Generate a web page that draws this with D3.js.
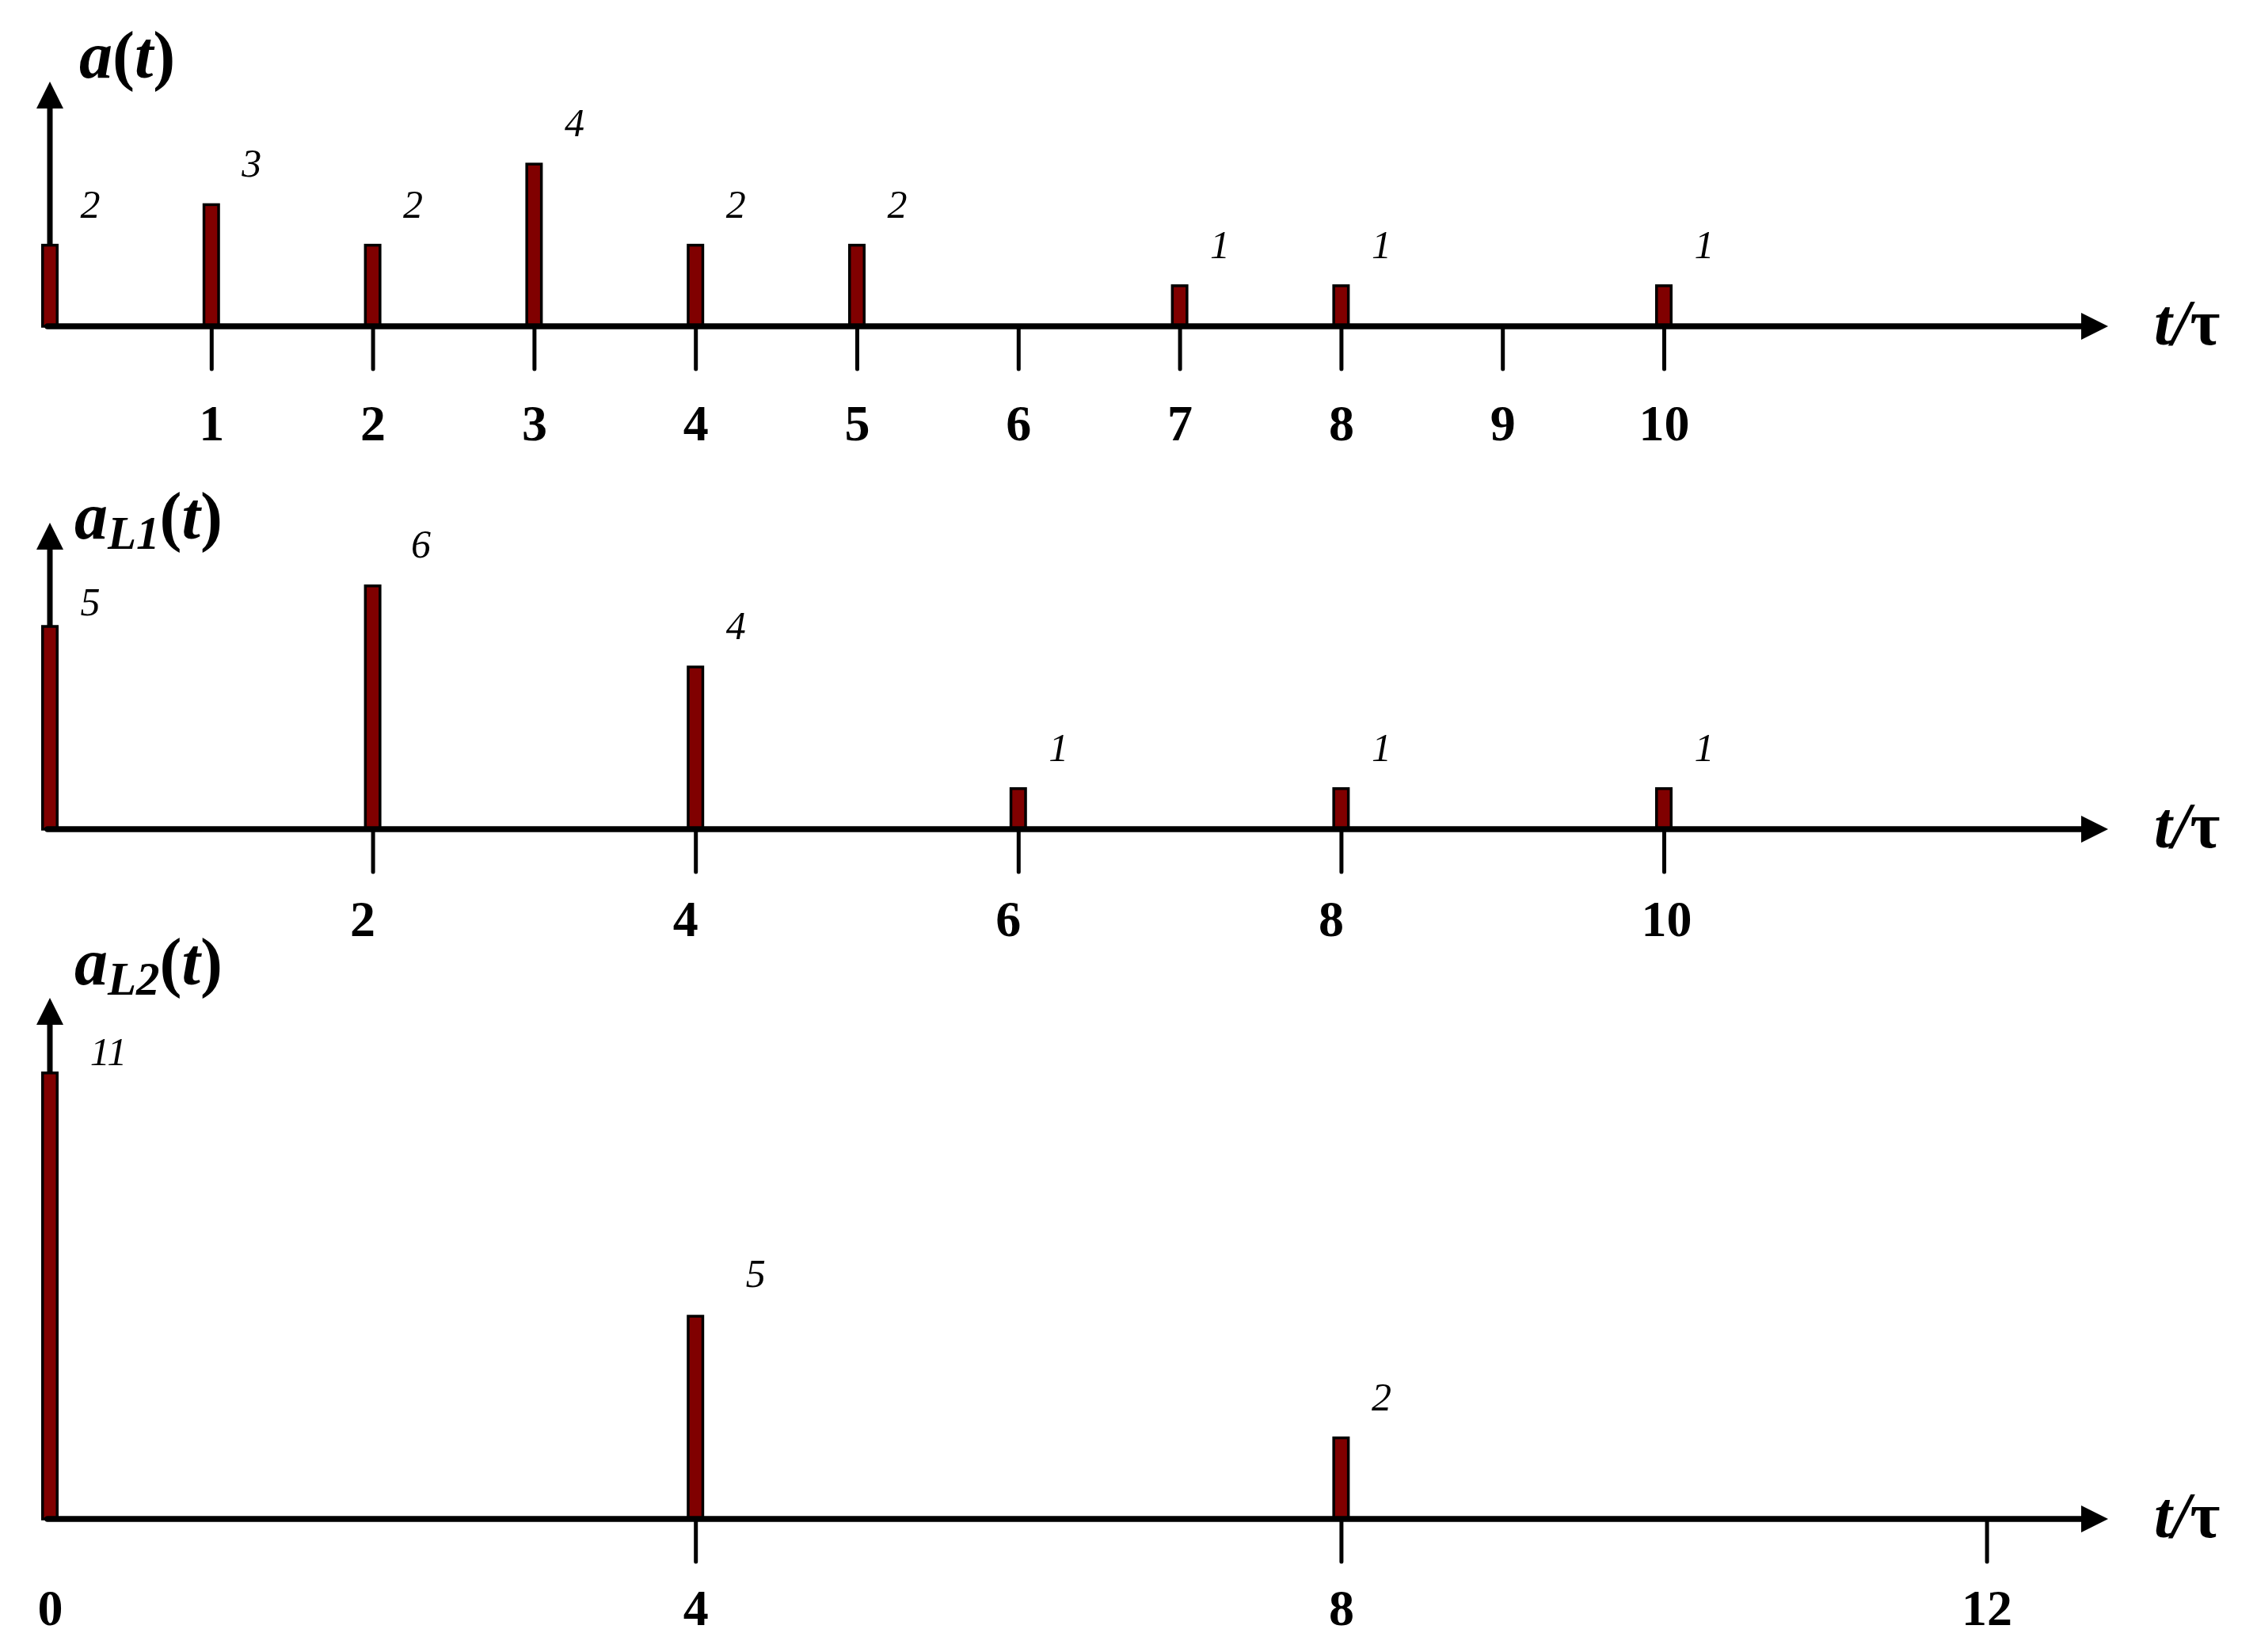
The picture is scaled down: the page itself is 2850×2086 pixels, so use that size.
<!DOCTYPE html>
<html>
<head>
<meta charset="utf-8">
<script src="https://cdn.jsdelivr.net/npm/d3@7"></script>
<style>
  body { margin: 0; background: #fff; }
  svg { display: block; }
</style>
</head>
<body>
<div class="chart"></div>
<script>
// values: arrival counts at each multiple of tau
const timesA = [0, 1, 2, 3, 4, 5, 7, 8, 10];
const countsA = [2, 3, 2, 4, 2, 2, 1, 1, 1];
const ticksA = [1, 2, 3, 4, 5, 6, 7, 8, 9, 10];

const timesL1 = [0, 2, 4, 6, 8, 10];
const countsL1 = [5, 6, 4, 1, 1, 1];
const ticksL1 = [2, 4, 6, 8, 10];

const timesL2 = [0, 4, 8];
const countsL2 = [11, 5, 2];
const ticksL2 = [0, 4, 8, 12];

const WIDTH = 2850;
const HEIGHT = 2086;
const BAR_COLOR = "#800000";
const SERIF = "'Liberation Serif', 'Times New Roman', serif";
const UNIT = 51.2; // px per count
const ARROW = 34;

// layout of the three stacked panels
const panels = [
  { key: "a", sub: null, times: timesA, counts: countsA, ticks: ticksA,
    axisY: 412, tipY: 103, titleX: 100, titleY: 98, tickTextY: 144, anchor: "middle", tickDx: 0 },
  { key: "L1", sub: "L1", times: timesL1, counts: countsL1, ticks: ticksL1,
    axisY: 1047, tipY: 660, titleX: 94, titleY: 680, tickTextY: 135, anchor: "start", tickDx: -29 },
  { key: "L2", sub: "L2", times: timesL2, counts: countsL2, ticks: ticksL2,
    axisY: 1918, tipY: 1260, titleX: 94, titleY: 1243, tickTextY: 134, anchor: "middle", tickDx: 0 },
];

// hand placed value labels in the original
const labelNudge = {
  "L1:0": [51, -14],
  "L1:2": [61, -36],
  "L2:0": [74, -10],
  "L2:4": [76, -37],
};

const xScale = d3.scaleLinear().domain([0, 12]).range([63, 63 + 12 * 203.8]);
const X_START = 60;
const X_TIP = 2662;

const svg = d3.select(".chart")
  .append("svg")
  .attr("width", WIDTH)
  .attr("height", HEIGHT)
  .style("background", "#fff");

panels.forEach(p => {
  const g = svg.append("g").attr("class", "panel panel-" + p.key);
  const yScale = d3.scaleLinear().domain([0, 1]).range([p.axisY, p.axisY - UNIT]);
  const x0 = xScale(0);

  // y axis with arrow
  g.append("line")
    .attr("x1", x0).attr("x2", x0)
    .attr("y1", p.axisY).attr("y2", p.tipY + ARROW - 2)
    .attr("stroke", "#000").attr("stroke-width", 7);
  g.append("path")
    .attr("d", `M${x0},${p.tipY} L${x0 + ARROW / 2},${p.tipY + ARROW} L${x0 - ARROW / 2},${p.tipY + ARROW} Z`)
    .attr("fill", "#000");

  // ticks and tick labels through d3 axis
  const axis = g.append("g")
    .attr("class", "x-axis")
    .attr("transform", `translate(0, ${p.axisY})`)
    .call(d3.axisBottom(xScale).tickValues(p.ticks).tickSize(54).tickFormat(d3.format("d")));
  axis.select(".domain").remove();
  axis.selectAll(".tick line")
    .attr("stroke", "#000")
    .attr("stroke-width", 5)
    .attr("stroke-linecap", "round")
    .attr("display", d => (d === 0 ? "none" : null));
  axis.selectAll(".tick text")
    .attr("y", p.tickTextY)
    .attr("dy", 0)
    .attr("x", p.tickDx)
    .attr("text-anchor", p.anchor)
    .attr("fill", "#000")
    .style("font-family", SERIF)
    .style("font-weight", "bold")
    .style("font-size", "64px");

  // bars
  const data = p.times.map((t, i) => ({ t, v: p.counts[i] }));
  g.append("g").attr("class", "bars")
    .selectAll("rect")
    .data(data)
    .join("rect")
    .attr("x", d => xScale(d.t) - 9.25)
    .attr("width", 18.5)
    .attr("y", d => yScale(d.v))
    .attr("height", d => yScale(0) - yScale(d.v))
    .attr("fill", BAR_COLOR)
    .attr("stroke", "#000")
    .attr("stroke-width", 3.5);

  // value labels
  g.append("g").attr("class", "values")
    .selectAll("text")
    .data(data)
    .join("text")
    .attr("x", d => xScale(d.t) + (labelNudge[p.key + ":" + d.t] || [51, -35])[0])
    .attr("y", d => yScale(d.v) + (labelNudge[p.key + ":" + d.t] || [51, -35])[1])
    .attr("text-anchor", "middle")
    .style("font-family", SERIF)
    .style("font-style", "italic")
    .style("font-size", "50px")
    .text(d => d.v);

  // x axis with arrow
  g.append("line")
    .attr("x1", X_START).attr("x2", X_TIP - ARROW + 2)
    .attr("y1", p.axisY).attr("y2", p.axisY)
    .attr("stroke", "#000").attr("stroke-width", 7.5)
    .attr("stroke-linecap", "round");
  g.append("path")
    .attr("d", `M${X_TIP},${p.axisY} L${X_TIP - ARROW},${p.axisY - ARROW / 2} L${X_TIP - ARROW},${p.axisY + ARROW / 2} Z`)
    .attr("fill", "#000");

  const unitLabel = g.append("text")
    .attr("x", 2720)
    .attr("y", p.axisY + 23)
    .style("font-family", SERIF)
    .style("font-weight", "bold")
    .style("font-size", "82px");
  unitLabel.append("tspan").style("font-style", "italic").text("t/");
  unitLabel.append("tspan").text("τ");

  // panel title a(t), a_L1(t), a_L2(t)
  const title = g.append("text")
    .attr("x", p.titleX)
    .attr("y", p.titleY)
    .style("font-family", SERIF)
    .style("font-weight", "bold")
    .style("font-size", "84px");
  title.append("tspan").style("font-style", "italic").text("a");
  if (p.sub) {
    title.append("tspan").style("font-style", "italic").style("font-size", "59px")
      .attr("dy", 13).text(p.sub);
    title.append("tspan").attr("dy", -13).text("(");
  } else {
    title.append("tspan").text("(");
  }
  title.append("tspan").style("font-style", "italic").text("t");
  title.append("tspan").text(")");
});
</script>
</body>
</html>
